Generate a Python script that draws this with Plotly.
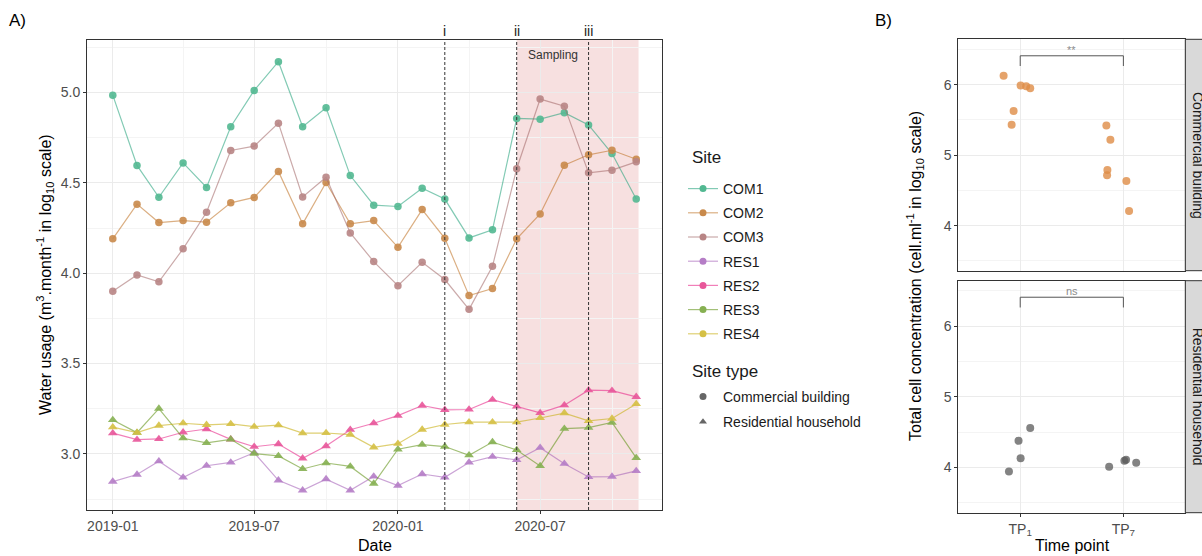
import plotly.graph_objects as go

# ---------------- Panel A data: monthly water usage (log10 m3/month) ----------------
months = [
    "2019-01-01", "2019-02-01", "2019-03-01", "2019-04-01", "2019-05-01", "2019-06-01",
    "2019-07-01", "2019-08-01", "2019-09-01", "2019-10-01", "2019-11-01", "2019-12-01",
    "2020-01-01", "2020-02-01", "2020-03-01", "2020-04-01", "2020-05-01", "2020-06-01",
    "2020-07-01", "2020-08-01", "2020-09-01", "2020-10-01", "2020-11-01",
]
com1 = [4.985, 4.596, 4.42, 4.61, 4.474, 4.81, 5.011, 5.17, 4.81, 4.915, 4.54, 4.376,
        4.369, 4.47, 4.41, 4.195, 4.24, 4.856, 4.852, 4.888, 4.82, 4.662, 4.41]
com2 = [4.19, 4.382, 4.28, 4.291, 4.282, 4.389, 4.419, 4.563, 4.273, 4.502, 4.273, 4.291,
        4.143, 4.352, 4.193, 3.876, 3.915, 4.19, 4.328, 4.597, 4.655, 4.68, 4.63]
com3 = [3.90, 3.99, 3.952, 4.135, 4.337, 4.679, 4.703, 4.83, 4.422, 4.531, 4.223, 4.064,
        3.931, 4.06, 3.965, 3.80, 4.038, 4.578, 4.963, 4.924, 4.555, 4.57, 4.616]
res1 = [2.847, 2.886, 2.96, 2.87, 2.935, 2.953, 3.007, 2.854, 2.799, 2.861, 2.799, 2.876,
        2.825, 2.889, 2.871, 2.953, 2.985, 2.967, 3.035, 2.946, 2.873, 2.875, 2.906]
res2 = [3.115, 3.079, 3.083, 3.12, 3.138, 3.081, 3.04, 3.055, 2.976, 3.044, 3.134, 3.17,
        3.212, 3.268, 3.244, 3.246, 3.30, 3.263, 3.227, 3.27, 3.353, 3.35, 3.316]
res3 = [3.188, 3.118, 3.251, 3.087, 3.061, 3.081, 3.002, 2.989, 2.917, 2.95, 2.931, 2.836,
        3.026, 3.052, 3.041, 2.993, 3.066, 3.022, 2.934, 3.14, 3.146, 3.174, 2.978]
res4 = [3.148, 3.118, 3.157, 3.17, 3.161, 3.166, 3.151, 3.159, 3.115, 3.116, 3.107, 3.037,
        3.057, 3.135, 3.163, 3.176, 3.176, 3.176, 3.199, 3.226, 3.183, 3.196, 3.277]

site_names = ["COM1", "COM2", "COM3", "RES1", "RES2", "RES3", "RES4"]
site_values = [com1, com2, com3, res1, res2, res3, res4]
site_types = ["Commercial building"] * 3 + ["Residential household"] * 4
site_marker_colors = ["#52B891", "#C98A4B", "#B88585", "#B57DC6", "#E8579A", "#86B052", "#D5C045"]
site_line_colors = ["rgba(27,158,119,0.55)", "rgba(190,110,30,0.55)", "rgba(160,100,100,0.55)",
                    "rgba(160,90,180,0.55)", "rgba(231,41,138,0.6)", "rgba(102,150,30,0.6)",
                    "rgba(200,175,20,0.6)"]

event_labels = ["i", "ii", "iii"]
event_dates = ["2020-03-01", "2020-06-01", "2020-09-01"]
sampling_window = ["2020-06-01", "2020-11-04"]

# ---------------- Panel B data: total cell concentration (log10 cells/ml) ----------------
tp_labels = ["TP<sub>1</sub>", "TP<sub>7</sub>"]
com_x_jittered = [0.839, 1.004, 1.058, 1.097, 0.936, 0.917, 1.835, 1.874, 1.845, 1.842, 2.029, 2.055]
com_tcc = [6.128, 5.99, 5.977, 5.949, 5.627, 5.433, 5.419, 5.22, 4.79, 4.714, 4.634, 4.208]
res_x_jittered = [0.891, 0.984, 1.004, 1.097, 1.862, 2.01, 2.026, 2.124]
res_tcc = [3.943, 4.377, 4.132, 4.558, 4.009, 4.094, 4.108, 4.066]
signif_labels = ["**", "ns"]

W, H = 1202, 556
FONT = "Liberation Sans, Arial, Helvetica, sans-serif"
TICK_COL = "#4D4D4D"
GRID = "#EBEBEB"
MINOR = "#F4F4F4"
BORDER = "#333333"
Y_A = [2.69, 5.29]
Y_B = [3.36, 6.644]


def px_x(p):
    return p / W


def px_y(p):
    return 1 - p / H


fig = go.Figure()

# Site lines
for name, vals, stype, mc, lc in zip(site_names, site_values, site_types,
                                     site_marker_colors, site_line_colors):
    symbol = "circle" if stype == "Commercial building" else "triangle-up"
    size = 7.5 if symbol == "circle" else 8.5
    fig.add_trace(go.Scatter(
        x=months, y=vals, mode="lines+markers", name=name, showlegend=False,
        line=dict(color=lc, width=1.2),
        marker=dict(color=mc, size=size, symbol=symbol, opacity=0.9, line=dict(width=0)),
        xaxis="x", yaxis="y",
    ))

# Legend entries: Site
for name, mc, lc in zip(site_names, site_marker_colors, site_line_colors):
    fig.add_trace(go.Scatter(
        x=[None], y=[None], mode="lines+markers", name=name, legend="legend",
        legendgroup=name, line=dict(color=lc, width=1.2),
        marker=dict(color=mc, size=7, symbol="circle"),
        xaxis="x", yaxis="y",
    ))

# Legend entries: Site type
for stype, sym in zip(["Commercial building", "Residential household"], ["circle", "triangle-up"]):
    fig.add_trace(go.Scatter(
        x=[None], y=[None], mode="markers", name=stype, legend="legend2",
        legendgroup=stype, marker=dict(color="#666666", size=7, symbol=sym),
        xaxis="x", yaxis="y",
    ))

# Panel B points
fig.add_trace(go.Scatter(
    x=com_x_jittered, y=com_tcc, mode="markers", showlegend=False,
    marker=dict(color="rgba(222,140,70,0.8)", size=8, line=dict(width=0)),
    xaxis="x2", yaxis="y2",
))
fig.add_trace(go.Scatter(
    x=res_x_jittered, y=res_tcc, mode="markers", showlegend=False,
    marker=dict(color="rgba(90,90,90,0.75)", size=8, line=dict(width=0)),
    xaxis="x3", yaxis="y3",
))

axis_common = dict(
    showline=True, mirror=True, linecolor=BORDER, linewidth=1,
    gridcolor=GRID, gridwidth=1, zeroline=False,
    tickfont=dict(family=FONT, size=14, color=TICK_COL),
    ticks="outside", ticklen=3, tickcolor=BORDER,
)

yA = [510, 40]
yB1 = [270.7, 39.3]
yB2 = [512.7, 280.7]

fig.update_layout(
    width=W, height=H, autosize=False,
    margin=dict(l=0, r=0, t=0, b=0),
    paper_bgcolor="white", plot_bgcolor="white",
    font=dict(family=FONT, color="#1A1A1A"),
    xaxis=dict(
        domain=[px_x(87), px_x(662)], type="date",
        range=["2018-11-29", "2020-12-04"],
        tickformat="%Y-%m", dtick="M6", tick0="2019-01-01",
        minor=dict(dtick="M3", showgrid=True, gridcolor=MINOR, gridwidth=1),
        anchor="y", **axis_common,
    ),
    yaxis=dict(
        domain=[px_y(yA[0]), px_y(yA[1])], range=Y_A,
        dtick=0.5, tick0=3.0, tickformat=".1f",
        minor=dict(dtick=0.25, showgrid=True, gridcolor=MINOR, gridwidth=1),
        anchor="x", **axis_common,
    ),
    xaxis2=dict(
        domain=[px_x(958.3), px_x(1185.3)], range=[0.4, 2.6],
        tickvals=[1, 2], showticklabels=False, ticks="",
        showline=True, mirror=True, linecolor=BORDER, linewidth=1,
        gridcolor=GRID, zeroline=False, anchor="y2",
    ),
    yaxis2=dict(
        domain=[px_y(yB1[0]), px_y(yB1[1])], range=Y_B,
        tickvals=[4, 5, 6],
        minor=dict(tickvals=[3.5, 4.5, 5.5, 6.5], showgrid=True, gridcolor=MINOR, gridwidth=1),
        anchor="x2", **axis_common,
    ),
    xaxis3=dict(
        domain=[px_x(958.3), px_x(1185.3)], range=[0.4, 2.6],
        tickvals=[1, 2], ticktext=tp_labels,
        anchor="y3", **axis_common,
    ),
    yaxis3=dict(
        domain=[px_y(yB2[0]), px_y(yB2[1])], range=Y_B,
        tickvals=[4, 5, 6],
        minor=dict(tickvals=[3.5, 4.5, 5.5, 6.5], showgrid=True, gridcolor=MINOR, gridwidth=1),
        anchor="x3", **axis_common,
    ),
    legend=dict(
        x=px_x(683), y=px_y(173), xanchor="left", yanchor="top",
        font=dict(size=14, family=FONT, color="#1A1A1A"),
        traceorder="grouped", tracegroupgap=3, bgcolor="rgba(0,0,0,0)",
    ),
    legend2=dict(
        x=px_x(683), y=px_y(381), xanchor="left", yanchor="top",
        font=dict(size=14, family=FONT, color="#1A1A1A"),
        traceorder="grouped", tracegroupgap=4, bgcolor="rgba(0,0,0,0)",
    ),
)

shapes = []
annotations = []


def text_at(text, x, y, size, color="#000000", angle=0, xanchor="center"):
    return dict(text=text, xref="paper", yref="paper", x=px_x(x), y=px_y(y),
                xanchor=xanchor, yanchor="middle", textangle=angle, showarrow=False,
                font=dict(size=size, color=color, family=FONT))


# Sampling window shading
shapes.append(dict(type="rect", xref="x", yref="y",
                   x0=sampling_window[0], x1=sampling_window[1], y0=Y_A[0], y1=Y_A[1],
                   fillcolor="rgba(225,130,130,0.25)", line=dict(width=0), layer="below"))
annotations.append(dict(text="Sampling", xref="x", yref="paper", x="2020-07-17", y=px_y(55),
                        xanchor="center", yanchor="middle", showarrow=False,
                        font=dict(size=12, color="#333333", family=FONT)))

# Event markers
for lab, d in zip(event_labels, event_dates):
    shapes.append(dict(type="line", xref="x", yref="y", x0=d, x1=d, y0=Y_A[0], y1=Y_A[1],
                       line=dict(color="#333333", width=1, dash="3px,2px"), layer="above"))
    annotations.append(dict(text=lab, xref="x", yref="paper", x=d, y=px_y(31),
                            xanchor="center", yanchor="middle", showarrow=False,
                            font=dict(size=14, color="#1A1A1A", family=FONT)))

# Significance brackets on panel B
for (xr, yr), lab in zip([("x2", "y2"), ("x3", "y3")], signif_labels):
    shapes.append(dict(type="path", xref=xr, yref=yr,
                       path="M1,6.265 L1,6.41 L2,6.41 L2,6.265",
                       line=dict(color="#555555", width=1)))
    annotations.append(dict(text=lab, xref=xr, yref=yr, x=1.5, y=6.41,
                            xanchor="center", yanchor="bottom",
                            showarrow=False, yshift=-2,
                            font=dict(size=11, color="#8C8C8C", family=FONT)))

# Facet strips
for (y0, y1), lab in zip([yB1, yB2], ["Commercial building", "Residential household"]):
    shapes.append(dict(type="rect", xref="paper", yref="paper",
                       x0=px_x(1185.3), x1=px_x(1215), y0=px_y(y0), y1=px_y(y1),
                       fillcolor="#D9D9D9", line=dict(color=BORDER, width=1)))
    annotations.append(text_at(lab, 1198, (y0 + y1) / 2, 14, "#1A1A1A", angle=90))

# Legend titles, axis titles and panel tags
annotations += [
    text_at("Site", 690, 157, 17, "#1A1A1A", xanchor="left"),
    text_at("Site type", 690, 372, 17, "#1A1A1A", xanchor="left"),
    text_at("Water usage (m<sup>3</sup>.month<sup>-1</sup> in log<sub>10</sub> scale)",
            45, 275, 16, angle=-90),
    text_at("Date", 375, 545, 16),
    text_at("Total cell concentration (cell.ml<sup>-1</sup> in log<sub>10</sub> scale)",
            915, 276, 16, angle=-90),
    text_at("Time point", 1072, 545, 16),
    text_at("A)", 7, 20, 17, xanchor="left"),
    text_at("B)", 873, 20, 17, xanchor="left"),
]

fig.update_layout(shapes=shapes, annotations=annotations)
fig.write_html("out.html")
